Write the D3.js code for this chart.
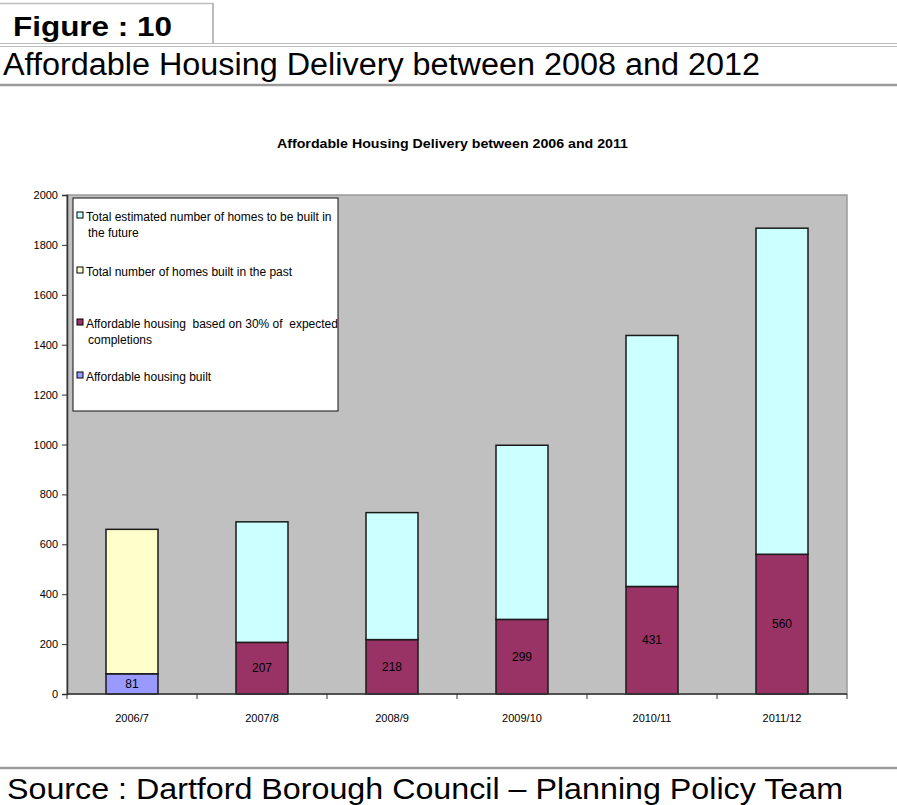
<!DOCTYPE html>
<html>
<head>
<meta charset="utf-8">
<script src="https://cdn.jsdelivr.net/npm/d3@7"></script>
<style>
  html, body { margin: 0; padding: 0; background: #fff; }
  svg { display: block; font-family: "Liberation Sans", Arial, sans-serif; }
</style>
</head>
<body>
<svg id="chart" width="897" height="805"></svg>
<script>
// Financial years shown on the x axis
const years = ["2006/7", "2007/8", "2008/9", "2009/10", "2010/11", "2011/12"];
// Affordable housing built (past year only)
const affordableBuilt = [81, null, null, null, null, null];
// Total number of homes built in the past
const totalBuilt = [660, null, null, null, null, null];
// Affordable housing based on 30% of expected completions
const affordableExpected = [null, 207, 218, 299, 431, 560];
// Total estimated number of homes to be built in the future
const totalFuture = [null, 690, 727, 997, 1437, 1867];
// Y axis ticks
const yTicks = [0, 200, 400, 600, 800, 1000, 1200, 1400, 1600, 1800, 2000];

const legendItems = [
  { lines: ["Total estimated number of homes to be built in", "the future"], color: "#CCFFFF" },
  { lines: ["Total number of homes built in the past"], color: "#FFFFCC" },
  { lines: ["Affordable housing  based on 30% of  expected", "completions"], color: "#993366" },
  { lines: ["Affordable housing built"], color: "#9999FF" }
];

const svg = d3.select("#chart");

// ---- Page header ----
const hdr = svg.append("g");
hdr.append("line").attr("x1", 0).attr("x2", 213).attr("y1", 3.5).attr("y2", 3.5)
  .attr("stroke", "#bdbdbd").attr("stroke-width", 1.5);
hdr.append("line").attr("x1", 213).attr("x2", 213).attr("y1", 3).attr("y2", 43)
  .attr("stroke", "#bdbdbd").attr("stroke-width", 2);
hdr.append("line").attr("x1", 0).attr("x2", 897).attr("y1", 43.5).attr("y2", 43.5)
  .attr("stroke", "#bdbdbd").attr("stroke-width", 1);
hdr.append("line").attr("x1", 0).attr("x2", 897).attr("y1", 46.5).attr("y2", 46.5)
  .attr("stroke", "#bdbdbd").attr("stroke-width", 1);
hdr.append("line").attr("x1", 0).attr("x2", 897).attr("y1", 85).attr("y2", 85)
  .attr("stroke", "#9a9a9a").attr("stroke-width", 2.5);
hdr.append("text").attr("x", 13).attr("y", 36)
  .attr("font-size", 28).attr("font-weight", "bold").attr("fill", "#000")
  .attr("textLength", 159).attr("lengthAdjust", "spacingAndGlyphs")
  .text("Figure : 10");
hdr.append("text").attr("x", 3).attr("y", 75)
  .attr("font-size", 31).attr("fill", "#000")
  .attr("textLength", 757).attr("lengthAdjust", "spacingAndGlyphs")
  .text("Affordable Housing Delivery between 2008 and 2012");

// ---- Footer ----
svg.append("line").attr("x1", 0).attr("x2", 897).attr("y1", 768).attr("y2", 768)
  .attr("stroke", "#9a9a9a").attr("stroke-width", 2.5);
svg.append("text").attr("x", 7).attr("y", 799)
  .attr("font-size", 30).attr("fill", "#000")
  .attr("textLength", 836).attr("lengthAdjust", "spacingAndGlyphs")
  .text("Source : Dartford Borough Council \u2013 Planning Policy Team");

// ---- Chart title ----
svg.append("text").attr("x", 277).attr("y", 148)
  .attr("font-size", 13).attr("font-weight", "bold")
  .attr("textLength", 351).attr("lengthAdjust", "spacingAndGlyphs")
  .text("Affordable Housing Delivery between 2006 and 2011");

// ---- Plot area ----
const plot = { left: 67, right: 847, top: 195, bottom: 694 };

const x = d3.scaleBand().domain(years).range([plot.left, plot.right]).paddingInner(0.6).paddingOuter(0.3);
const xCat = d3.scaleBand().domain(years).range([plot.left, plot.right]);
const y = d3.scaleLinear().domain([0, 2000]).range([plot.bottom, plot.top]);

svg.append("rect")
  .attr("x", plot.left).attr("y", plot.top)
  .attr("width", plot.right - plot.left).attr("height", plot.bottom - plot.top)
  .attr("fill", "#C0C0C0").attr("stroke", "#9a9a9a").attr("stroke-width", 1.5);

// Stacked segments: lower (affordable) and upper (rest up to total)
const segments = [];
years.forEach((yr, i) => {
  if (affordableBuilt[i] != null) {
    segments.push({ yr, y0: 0, y1: affordableBuilt[i], color: "#9999FF", label: affordableBuilt[i] });
    segments.push({ yr, y0: affordableBuilt[i], y1: totalBuilt[i], color: "#FFFFCC" });
  }
  if (affordableExpected[i] != null) {
    segments.push({ yr, y0: 0, y1: affordableExpected[i], color: "#993366", label: affordableExpected[i] });
    segments.push({ yr, y0: affordableExpected[i], y1: totalFuture[i], color: "#CCFFFF" });
  }
});

svg.append("g").selectAll("rect").data(segments).join("rect")
  .attr("x", d => x(d.yr))
  .attr("y", d => y(d.y1))
  .attr("width", x.bandwidth())
  .attr("height", d => y(d.y0) - y(d.y1))
  .attr("fill", d => d.color)
  .attr("stroke", "#1a1a1a").attr("stroke-width", 1.5);

svg.append("g").selectAll("text").data(segments.filter(d => d.label != null)).join("text")
  .attr("x", d => x(d.yr) + x.bandwidth() / 2)
  .attr("y", d => y((d.y0 + d.y1) / 2))
  .attr("dy", "0.35em")
  .attr("text-anchor", "middle").attr("font-size", 12).attr("fill", "#000")
  .text(d => d.label);

// ---- Axes ----
const yAxis = d3.axisLeft(y).tickValues(yTicks).tickFormat(d3.format("d")).tickSize(5).tickPadding(4);
const gy = svg.append("g").attr("transform", `translate(${plot.left},0)`).call(yAxis);
gy.select(".domain").attr("stroke", "#333").attr("stroke-width", 1.5);
gy.selectAll(".tick line").attr("stroke", "#333");
gy.selectAll(".tick text").attr("font-size", 11).attr("font-family", "Liberation Sans, Arial, sans-serif").attr("fill", "#000");

const gx = svg.append("g").attr("transform", `translate(0,${plot.bottom})`);
gx.append("line").attr("x1", plot.left).attr("x2", plot.right).attr("y1", 0).attr("y2", 0)
  .attr("stroke", "#333").attr("stroke-width", 1.5);
gx.selectAll("line.tick").data(d3.range(years.length + 1)).join("line")
  .attr("class", "tick")
  .attr("x1", i => plot.left + i * xCat.step()).attr("x2", i => plot.left + i * xCat.step())
  .attr("y1", 0).attr("y2", 5).attr("stroke", "#333");
gx.selectAll("text").data(years).join("text")
  .attr("x", d => xCat(d) + xCat.bandwidth() / 2)
  .attr("y", 28)
  .attr("text-anchor", "middle").attr("font-size", 11).attr("fill", "#000")
  .text(d => d);

// ---- Legend ----
const lg = svg.append("g");
lg.append("rect").attr("x", 73).attr("y", 198).attr("width", 265).attr("height", 213)
  .attr("fill", "#fff").attr("stroke", "#111").attr("stroke-width", 1);
const itemY = [217, 272, 324, 377];
legendItems.forEach((it, i) => {
  const g = lg.append("g");
  g.append("rect").attr("x", 77).attr("y", itemY[i] - 5).attr("width", 6).attr("height", 6)
    .attr("fill", it.color).attr("stroke", "#000").attr("stroke-width", 1);
  it.lines.forEach((ln, j) => {
    g.append("text").attr("x", j === 0 ? 86 : 88).attr("y", itemY[i] + j * 16)
      .attr("dy", "0.32em").attr("font-size", 12).attr("fill", "#000")
      .attr("xml:space", "preserve")
      .style("white-space", "pre")
      .text(ln);
  });
});
</script>
</body>
</html>
